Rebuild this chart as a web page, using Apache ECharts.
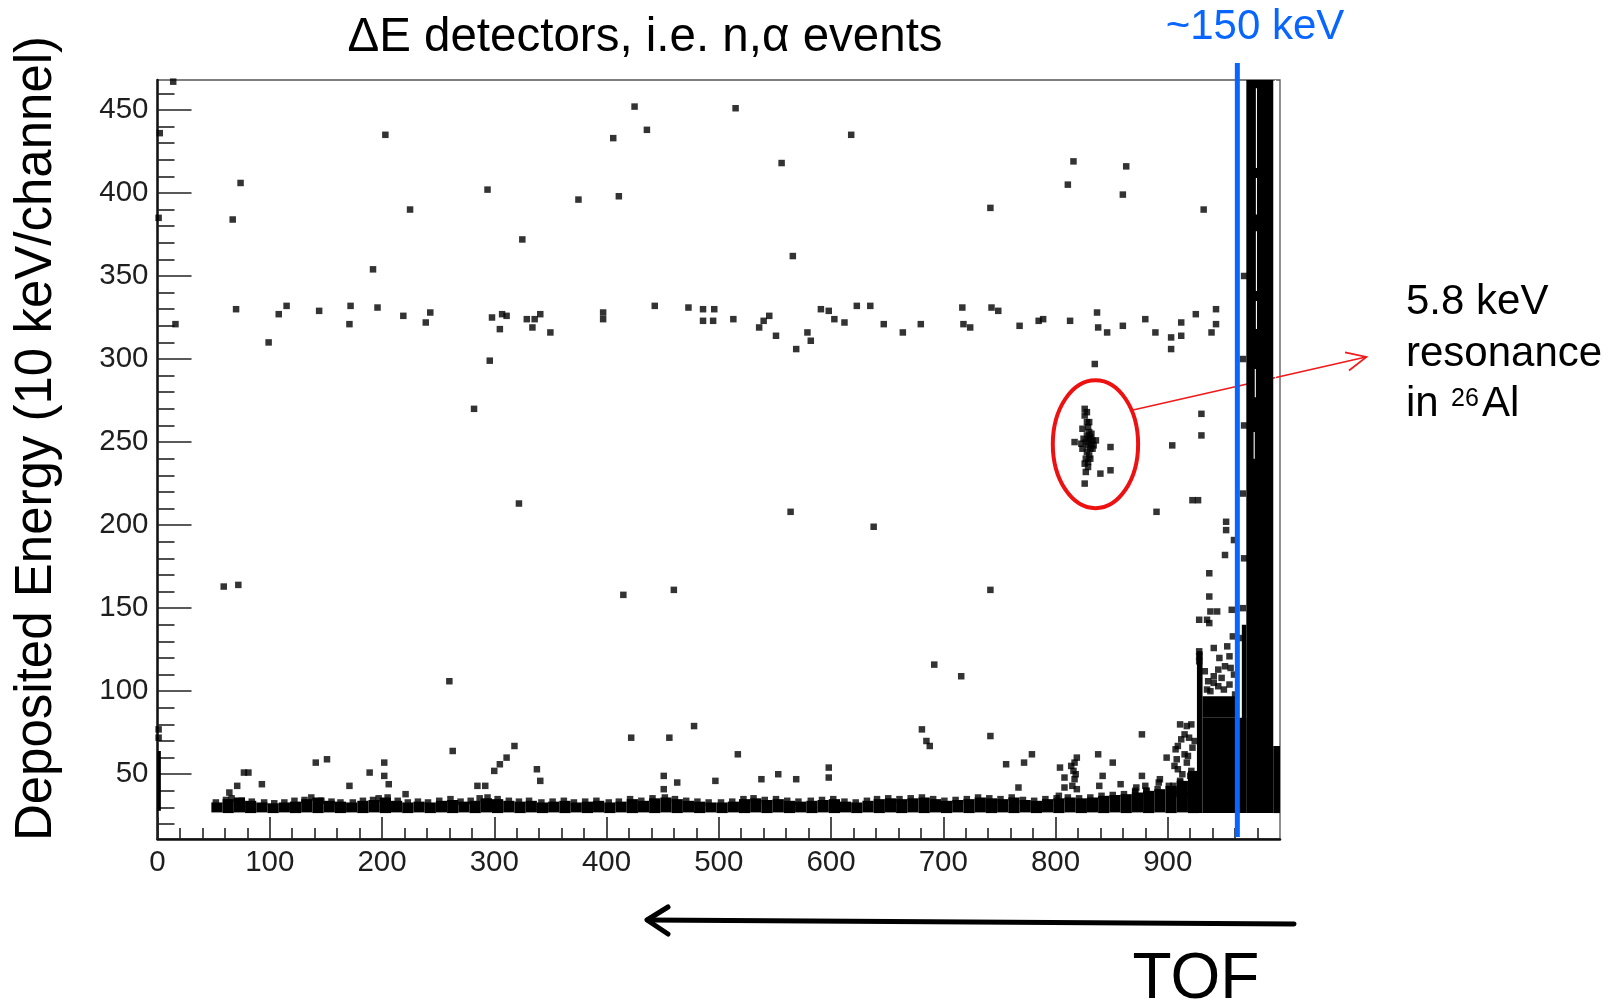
<!DOCTYPE html>
<html>
<head>
<meta charset="utf-8">
<script src="https://cdn.jsdelivr.net/npm/echarts@6/dist/echarts.min.js"></script>
<style>html,body{margin:0;padding:0;background:#fff}#c{width:1619px;height:1007px}</style>
</head>
<body>
<div id="c"></div>
<script>
// ---------- axis ticks ----------
const xMajorTicks = [0,100,200,300,400,500,600,700,800,900];
const xMinorTicks = [20,40,60,80,120,140,160,180,220,240,260,280,320,340,360,380,420,440,460,480,520,540,560,580,620,640,660,680,720,740,760,780,820,840,860,880,920,940,960,980];
const yMajorTicks = [50,100,150,200,250,300,350,400,450];
const yMinorTicks = [20,30,40,60,70,80,90,110,120,130,140,160,170,180,190,210,220,230,240,260,270,280,290,310,320,330,340,360,370,380,390,410,420,430,440,460];
const xRange = [0, 1000];
const yRange = [11, 468];

// ---------- isolated events [tof, energy] ----------
const upperPoints = [
  [14,467],[2,436],[1,385],[74,406],[67,384],[203,435],[225,390],[192,354],[294,402],[325,372],
  [375,396],[406,433],[411,398],[425,452],[436,438],[515,451],[556,418],[566,362],[618,435],
  [742,391],[811,405],[816,419],[860,399],[863,416],[932,390]
];
const band320Points = [
  [16,321],[99,310],[70,330],[108,327],[115,332],[144,329],[171,321],[172,332],[196,331],[219,326],
  [239,322],[243,328],[298,325],[305,318],[307,327],[311,326],[329,324],[334,319],[336,324],[341,327],
  [350,316],[397,328],[397,324],[296,299],[443,332],[473,331],[486,330],[486,323],[496,330],[495,323],
  [513,324],[536,319],[540,323],[545,326],[551,314],[569,306],[582,311],[579,316],[591,330],[598,329],
  [603,324],[612,322],[623,332],[635,332],[647,321],[664,316],[680,321],[717,331],[718,321],[724,319],
  [743,331],[749,329],[768,320],[785,323],[789,324],[813,323],[837,328],[838,319],[846,316],[860,320],
  [880,324],[889,316],[903,313],[903,306],[912,322],[912,314],[925,327],[939,316],[943,330],[943,321],
  [835,297]
];
const resonancePoints = [
  [826,270],[826,266],[828,262],[829,259],[830,256],[828,254],[831,253],[830,252],[827,250],[829,248],
  [832,249],[831,246],[828,244],[830,242],[827,240],[829,238],[826,237],[833,251],[836,251],[817,250],
  [849,247],[840,231],[849,233],[826,225],[824,258],[825,252],[824,246],[833,246],[832,255],[834,248],
  [823,249],[830,262],[827,232],[829,235],[831,240],[828,268]
];
const middlePoints = [
  [59,163],[72,164],[415,158],[460,161],[742,161],[638,199],[564,208],[322,213],[282,270],[260,106],
  [692,116],[716,109],[904,248],[930,267],[930,254],[890,208],[922,215],[927,215],
  [952,202],[952,197],[959,191],[951,182],[937,171],[937,157],[938,148],[944,148],[957,149],
  [928,143],[935,143],[937,141],[958,133],[941,126],[928,124],[928,121],[928,118],[955,121],
  [951,115],[945,113],[941,109],[941,105],[945,103],[950,101],[935,101],[955,104],[959,110],
  [933,112],[948,108],[956,114],[936,106],[953,127],[946,120],[960,98],[938,100],
  [967,219],[968,180],[967,150],[966,132],[968,260],[967,300],[968,350]
];
const lowPoints = [
  [1,77],[1,72],[77,51],[81,51],[64,39],[71,43],[141,57],[151,59],[189,51],[202,57],[202,49],[206,44],
  [221,38],[171,43],[93,44],[300,52],[305,56],[311,60],[318,67],[263,64],[285,43],[292,43],[338,53],
  [341,46],[422,72],[456,72],[478,79],[451,49],[451,41],[463,45],[497,46],[517,62],[538,47],[553,50],
  [569,47],[598,54],[598,48],[681,77],[685,70],[688,67],[742,73],
  [779,62],[772,57],[756,56],[767,42],[804,54],[808,48],[808,42],[803,37],[814,55],[817,57],[819,60],
  [816,52],[817,47],[819,41],[815,43],[818,50],[838,62],[842,49],[839,43],[851,57],[858,44],[877,74],
  [877,49],[872,42],[871,40],[880,43],[881,40],[893,47],[892,45],[899,60],
  [911,80],[917,79],[921,80],[915,74],[912,71],[909,67],[907,65],[908,59],[906,55],[909,53],[917,57],
  [918,61],[920,49],[921,47],[911,45],[905,43],[908,40],[913,50],[915,62],[922,66],[924,70],[919,72],
  [910,38],[916,38],[923,42]
];
// ragged upper edge of the low-energy band
const bandEdgePoints = [
  [52,33],[61,34.5],[66,35.5],[75,34],[84,33.5],[95,33],[104,32.5],[113,33],[122,34],[131,34.5],
  [137,36],[146,34],[155,33.5],[163,33],[174,33],[183,34],[192,34.5],[197,35.5],[205,36],[214,34],
  [223,33],[232,33.5],[241,33],[251,34],[261,35],[270,33.5],[279,34],[287,35.5],[294,36],[303,35],
  [313,34],[322,33.5],[331,34],[342,33],[352,33.5],[362,34],[371,33],[381,33.5],[391,34],[402,33],
  [411,33.5],[421,35],[431,34],[441,35.5],[452,36],[461,35],[471,34],[481,33.5],[491,33],[502,33],
  [512,33.5],[522,35],[531,35.5],[541,34.5],[551,35],[561,34],[571,33.5],[582,34],[592,34.5],[602,35],
  [612,33.5],[622,33],[632,34],[641,35],[651,35.5],[661,35],[671,35.5],[681,36],[691,35],[701,34],
  [711,34.5],[721,35],[731,36],[741,35.5],[751,35],[761,36],[771,34.5],[781,34],[791,35],[801,35.5],
  [811,36],[821,35.5],[831,36],[841,37],[851,37.5],[861,38],[871,39],[881,40],[891,41],[901,43],
  [911,46],[921,52]
];

// ---------- saturated regions [tofFrom, tofTo, eFrom, eTo] ----------
const bandSegments = [
  [48,58,27,33],[58,68,26.6,35],[68,78,27,36],[78,88,26.6,34],[88,98,27,33],[98,108,26.6,32.5],
  [108,118,27,33],[118,128,26.6,33.5],[128,138,27,35],[138,148,26.6,36],[148,158,27,34],
  [158,168,26.6,33.5],[168,178,27,33],[178,188,26.6,34],[188,198,27,34.5],[198,208,26.6,36],
  [208,218,27,34],[218,228,26.6,33],[228,238,27,33.5],[238,248,26.6,33],[248,258,27,34],
  [258,268,26.6,34.5],[268,278,27,33.5],[278,288,26.6,34],[288,298,27,35.5],[298,308,26.6,35],
  [308,318,27,34],[318,328,26.6,33.5],[328,338,27,34],[338,348,26.6,33],[348,358,27,33.5],
  [358,368,26.6,34],[368,378,27,33],[378,388,26.6,33.5],[388,398,27,34],[398,408,26.6,33],
  [408,418,27,33.5],[418,428,26.6,35],[428,438,27,34],[438,448,26.6,35.5],[448,458,27,36],
  [458,468,26.6,35],[468,478,27,34],[478,488,26.6,33.5],[488,498,27,33],[498,508,26.6,33],
  [508,518,27,33.5],[518,528,26.6,35],[528,538,27,35.5],[538,548,26.6,34.5],[548,558,27,35],
  [558,568,26.6,34],[568,578,27,33.5],[578,588,26.6,34],[588,598,27,34.5],[598,608,26.6,35],
  [608,618,27,33.5],[618,628,26.6,33],[628,638,27,34],[638,648,26.6,35],[648,658,27,35.5],
  [658,668,26.6,35],[668,678,27,35.5],[678,688,26.6,36],[688,698,27,35],[698,708,26.6,34],
  [708,718,27,34.5],[718,728,26.6,35],[728,738,27,36],[738,748,26.6,35.5],[748,758,27,35],
  [758,768,26.6,36],[768,778,27,34.5],[778,788,26.6,34],[788,798,27,35],[798,808,26.6,35.5],
  [808,818,27,36],[818,828,26.6,35.5],[828,838,27,36],[838,848,26.6,37],[848,858,27,37.5],
  [858,868,26.6,38],[868,878,27,39],[878,888,26.6,40],[888,898,27,41],[898,908,26.6,43],
  [908,918,27,46],[918,928,26.6,52]
];
const denseBlocks = [
  [0,3,28,64],
  [970,994,26.6,468],
  [966,970,26.6,140],
  [994,1000,26.6,67],
  [931,970,26.6,84],
  [926,931,26.6,124],
  [931,962,84,97]
];
const columnGaps = [
  [979,415,463],[979,387,409],[979,341,377],[979,318,335],[978,277,294],[977,240,256],[996,67,468]
];

// ---------- annotations ----------
const thresholdTof = [[962]];                       // ~150 keV marker
const resonanceRing = [[835.6, 248.7, 38, 38.5]];   // centre tof, centre energy, radius tof, radius energy

const FONT = 'Liberation Sans, Arial, Helvetica, sans-serif';
const chart = echarts.init(document.getElementById('c'), null, {renderer: 'canvas'});

function blockItem(params, api) {
  const p0 = api.coord([api.value(0), api.value(3)]);
  const p1 = api.coord([api.value(1), api.value(2)]);
  return {type: 'rect', shape: {x: p0[0], y: p0[1], width: p1[0] - p0[0], height: p1[1] - p0[1]},
          style: {fill: '#000'}};
}

const allPoints = [].concat(upperPoints, band320Points, resonancePoints, middlePoints, lowPoints, bandEdgePoints);

const option = {
  animation: false,
  backgroundColor: '#fff',
  grid: {left: 157.5, right: 339, top: 80, bottom: 168, show: true, borderColor: '#555', borderWidth: 1.3, backgroundColor: 'transparent'},
  xAxis: [
    {type: 'value', min: xRange[0], max: xRange[1], position: 'bottom',
     axisLine: {show: true, onZero: false, lineStyle: {color: '#111', width: 2.5}},
     axisTick: {show: true, inside: true, length: 22, customValues: xMajorTicks, lineStyle: {color: '#222', width: 1.6}},
     axisLabel: {show: true, customValues: xMajorTicks, margin: 9, fontSize: 29.5, color: '#1e1e1e', fontFamily: FONT},
     splitLine: {show: false}},
    {type: 'value', min: xRange[0], max: xRange[1], position: 'bottom',
     axisLine: {show: false, onZero: false},
     axisTick: {show: true, inside: true, length: 11, customValues: xMinorTicks, lineStyle: {color: '#222', width: 1.6}},
     axisLabel: {show: false}, splitLine: {show: false}}
  ],
  yAxis: [
    {type: 'value', min: yRange[0], max: yRange[1], position: 'left',
     axisLine: {show: true, onZero: false, lineStyle: {color: '#111', width: 2.5}},
     axisTick: {show: true, inside: true, length: 34, customValues: yMajorTicks, lineStyle: {color: '#222', width: 1.6}},
     axisLabel: {show: true, customValues: yMajorTicks, margin: 9, fontSize: 29.5, color: '#1e1e1e', fontFamily: FONT},
     splitLine: {show: false}},
    {type: 'value', min: yRange[0], max: yRange[1], position: 'left',
     axisLine: {show: false, onZero: false},
     axisTick: {show: true, inside: true, length: 17, customValues: yMinorTicks, lineStyle: {color: '#222', width: 1.6}},
     axisLabel: {show: false}, splitLine: {show: false}}
  ],
  series: [
    {type: 'custom', name: 'band', xAxisIndex: 0, yAxisIndex: 0, clip: true,
     renderItem: blockItem, data: bandSegments, encode: {x: [0, 1], y: [2, 3]}, silent: true},
    {type: 'custom', name: 'dense', xAxisIndex: 0, yAxisIndex: 0, clip: true,
     renderItem: blockItem, data: denseBlocks, encode: {x: [0, 1], y: [2, 3]}, silent: true},
    {type: 'scatter', name: 'events', xAxisIndex: 0, yAxisIndex: 0, symbol: 'rect', symbolSize: 6.5,
     itemStyle: {color: '#000'}, data: allPoints, silent: true, clip: true},
    {type: 'custom', name: 'gaps', xAxisIndex: 0, yAxisIndex: 0, clip: true, silent: true,
     data: columnGaps, encode: {x: 0, y: [1, 2]},
     renderItem: function (params, api) {
       const a = api.coord([api.value(0), api.value(2)]);
       const b = api.coord([api.value(0), api.value(1)]);
       return {type: 'line', shape: {x1: a[0], y1: a[1], x2: b[0], y2: b[1]}, style: {stroke: '#fff', lineWidth: 1.1}};
     }},
    {type: 'custom', name: 'threshold', xAxisIndex: 0, yAxisIndex: 0, clip: false, silent: true, z: 5,
     data: thresholdTof, encode: {x: 0},
     renderItem: function (params, api) {
       const top = api.coord([api.value(0), yRange[1]]);
       const bot = api.coord([api.value(0), yRange[0]]);
       return {type: 'line', shape: {x1: top[0], y1: top[1] - 17, x2: bot[0], y2: bot[1] - 2},
               style: {stroke: '#0866ff', lineWidth: 5}};
     }},
    {type: 'custom', name: 'resonance', xAxisIndex: 0, yAxisIndex: 0, clip: false, silent: true, z: 5,
     data: resonanceRing, encode: {x: 0, y: 1},
     renderItem: function (params, api) {
       const c = api.coord([api.value(0), api.value(1)]);
       const e = api.coord([api.value(0) + api.value(2), api.value(1) + api.value(3)]);
       return {type: 'ellipse', shape: {cx: c[0], cy: c[1], rx: e[0] - c[0], ry: c[1] - e[1]},
               style: {stroke: '#ee1111', lineWidth: 4, fill: null}};
     }}
  ],
  graphic: [
    {type: 'text', x: 645, y: 38, style: {text: 'ΔE detectors, i.e. n,α events', fontSize: 47.5, fontFamily: FONT, fill: '#000', align: 'center', verticalAlign: 'middle'}},
    {type: 'text', x: 1255, y: 27, style: {text: '~150 keV', fontSize: 42, fontFamily: FONT, fill: '#0866ff', align: 'center', verticalAlign: 'middle'}},
    {type: 'text', x: 36.5, y: 438.5, rotation: Math.PI / 2, style: {text: 'Deposited Energy (10 keV/channel)', fontSize: 51, fontFamily: FONT, fill: '#000', align: 'center', verticalAlign: 'middle'}},
    {type: 'text', x: 1406, y: 302.5, style: {text: '5.8 keV', fontSize: 42, fontFamily: FONT, fill: '#000', align: 'left', verticalAlign: 'middle'}},
    {type: 'text', x: 1406, y: 354, style: {text: 'resonance', fontSize: 42, fontFamily: FONT, fill: '#000', align: 'left', verticalAlign: 'middle'}},
    {type: 'text', x: 1406, y: 404, style: {text: 'in ', fontSize: 42, fontFamily: FONT, fill: '#000', align: 'left', verticalAlign: 'middle'}},
    {type: 'text', x: 1451, y: 399, style: {text: '26', fontSize: 25, fontFamily: FONT, fill: '#000', align: 'left', verticalAlign: 'middle'}},
    {type: 'text', x: 1482, y: 404, style: {text: 'Al', fontSize: 42, fontFamily: FONT, fill: '#000', align: 'left', verticalAlign: 'middle'}},
    {type: 'text', x: 1196, y: 980, style: {text: 'TOF', fontSize: 64, fontFamily: FONT, fill: '#000', align: 'center', verticalAlign: 'middle'}},
    {type: 'line', shape: {x1: 1294, y1: 924, x2: 648, y2: 920}, style: {stroke: '#000', lineWidth: 5, lineCap: 'round'}},
    {type: 'polyline', shape: {points: [[668, 907], [647, 920], [668, 934]]}, style: {stroke: '#000', lineWidth: 5, lineCap: 'round', lineJoin: 'round', fill: null}},
    {type: 'line', shape: {x1: 1133, y1: 410, x2: 1366, y2: 357}, style: {stroke: '#f01a1a', lineWidth: 1.7}},
    {type: 'polyline', shape: {points: [[1345, 352.4], [1366.5, 357], [1349, 370.5]]}, style: {stroke: '#f01a1a', lineWidth: 1.7, fill: null}}
  ]
};
chart.setOption(option);
</script>
</body>
</html>
